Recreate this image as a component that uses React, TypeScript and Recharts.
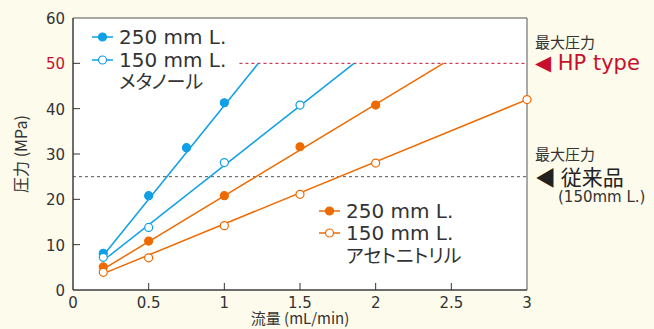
import React from 'react';
import {
  ComposedChart, Line, Scatter, XAxis, YAxis, ReferenceLine, ReferenceArea,
} from 'recharts';

// 流量 (mL/min) と圧力 (MPa)
const blue250Pts = [
  { x: 0.2, y: 8.1 }, { x: 0.5, y: 20.8 }, { x: 0.75, y: 31.4 }, { x: 1, y: 41.3 },
];
const blue150Pts = [
  { x: 0.2, y: 7.2 }, { x: 0.5, y: 13.8 }, { x: 1, y: 28.1 }, { x: 1.5, y: 40.8 },
];
const orange250Pts = [
  { x: 0.2, y: 5.1 }, { x: 0.5, y: 10.8 }, { x: 1, y: 20.8 }, { x: 1.5, y: 31.6 }, { x: 2, y: 40.8 },
];
const orange150Pts = [
  { x: 0.2, y: 3.9 }, { x: 0.5, y: 7.1 }, { x: 1, y: 14.2 }, { x: 1.5, y: 21.1 }, { x: 2, y: 28 }, { x: 3, y: 42 },
];

// fitted lines (start / end)
const blue250Fit = [{ x: 0.2, y: 7.6 }, { x: 1.225, y: 50 }];
const blue150Fit = [{ x: 0.2, y: 6.5 }, { x: 1.857, y: 50 }];
const orange250Fit = [{ x: 0.2, y: 4.6 }, { x: 2.447, y: 50 }];
const orange150Fit = [{ x: 0.2, y: 3.6 }, { x: 3, y: 42 }];

const xTicks = [0, 0.5, 1, 1.5, 2, 2.5, 3];
const yTicks = [0, 10, 20, 30, 40, 50, 60];

const BLUE = '#0fa0e6';
const ORANGE = '#ee6a00';
const RED = '#c8102e';
const TEXT = '#333';
const FONT = '"DejaVu Sans", "Noto Sans CJK JP", sans-serif';
const JP = '"Noto Sans CJK JP", sans-serif';

const XTick = (props: any) => {
  const { x, y, payload } = props;
  return (
    <g>
      {payload.value !== 0 && payload.value !== 3 && (
        <line x1={x} x2={x} y1={y} y2={y - 7} stroke={TEXT} />
      )}
      <text x={x} y={y + 18} textAnchor="middle" fontSize={15} fill={TEXT} fontFamily={FONT}>
        {String(payload.value)}
      </text>
    </g>
  );
};

const YTick = (props: any) => {
  const { x, y, payload } = props;
  return (
    <g>
      {payload.value !== 0 && payload.value !== 60 && (
        <line x1={x} x2={x + 7} y1={y} y2={y} stroke={TEXT} />
      )}
      <text x={x - 8} y={y + 6} textAnchor="end" fontSize={15}
        fill={payload.value === 50 ? RED : TEXT} fontFamily={FONT}>
        {payload.value}
      </text>
    </g>
  );
};

const dot = (color: string, filled: boolean) => (p: any) => (
  <circle cx={p.cx} cy={p.cy} r={4} fill={filled ? color : '#fff'} stroke={color} strokeWidth={1.2} />
);

const LegendRow = ({ left, top, color, filled, label }: any) => (
  <div style={{ position: 'absolute', left, top, display: 'flex', alignItems: 'center', height: 22 }}>
    <svg width={24} height={12} style={{ marginRight: 4 }}>
      <line x1={1} x2={22} y1={6} y2={6} stroke={color} strokeWidth={1.5} />
      <circle cx={11.5} cy={6} r={4} fill={filled ? color : '#fff'} stroke={color} strokeWidth={1.2} />
    </svg>
    <span style={{ fontFamily: FONT, fontSize: 20, color: TEXT, lineHeight: '22px' }}>{label}</span>
  </div>
);

const jpStyle = (left: number, top: number, size: number, color = TEXT): React.CSSProperties => ({
  position: 'absolute', left, top, fontFamily: JP, fontSize: size, color,
  lineHeight: `${size + 1}px`, fontFeatureSettings: '"palt"', whiteSpace: 'nowrap',
});

export default function App() {
  return (
    <div style={{ position: 'fixed', left: 0, top: 0, width: 654, height: 329, background: '#fdfbec' }}>
      <ComposedChart width={654} height={329} margin={{ top: 18, right: 127, bottom: 0, left: 13 }}>
        <XAxis type="number" dataKey="x" domain={[0, 3]} ticks={xTicks} height={39}
          axisLine={{ stroke: TEXT }} tickLine={false} tickSize={0} tickMargin={0} tick={<XTick />} />
        <YAxis type="number" dataKey="y" domain={[0, 60]} ticks={yTicks} width={60}
          axisLine={{ stroke: TEXT }} tickLine={false} tickSize={0} tickMargin={0} tick={<YTick />} />
        <ReferenceArea x1={0} x2={3} y1={0} y2={60} fill="#fff" fillOpacity={1} stroke="#555" ifOverflow="visible" />
        <ReferenceLine segment={[{ x: 1.1, y: 50 }, { x: 3, y: 50 }]} stroke={RED} strokeDasharray="3 3" />
        <ReferenceLine segment={[{ x: 0, y: 25 }, { x: 3, y: 25 }]} stroke="#555" strokeDasharray="3 3" />
        <Line data={blue250Fit} dataKey="y" stroke={BLUE} strokeWidth={1.5} dot={false} isAnimationActive={false} />
        <Line data={blue150Fit} dataKey="y" stroke={BLUE} strokeWidth={1.5} dot={false} isAnimationActive={false} />
        <Line data={orange250Fit} dataKey="y" stroke={ORANGE} strokeWidth={1.5} dot={false} isAnimationActive={false} />
        <Line data={orange150Fit} dataKey="y" stroke={ORANGE} strokeWidth={1.5} dot={false} isAnimationActive={false} />
        <Scatter data={blue250Pts} dataKey="y" shape={dot(BLUE, true)} isAnimationActive={false} />
        <Scatter data={blue150Pts} dataKey="y" shape={dot(BLUE, false)} isAnimationActive={false} />
        <Scatter data={orange250Pts} dataKey="y" shape={dot(ORANGE, true)} isAnimationActive={false} />
        <Scatter data={orange150Pts} dataKey="y" shape={dot(ORANGE, false)} isAnimationActive={false} />
      </ComposedChart>

      <LegendRow left={91} top={26} color={BLUE} filled label="250 mm L." />
      <LegendRow left={91} top={49} color={BLUE} filled={false} label="150 mm L." />
      <div style={jpStyle(119, 71, 19)}>メタノール</div>

      <LegendRow left={318} top={200} color={ORANGE} filled label="250 mm L." />
      <LegendRow left={318} top={222} color={ORANGE} filled={false} label="150 mm L." />
      <div style={jpStyle(346, 245, 19)}>アセトニトリル</div>

      <div style={jpStyle(535, 34, 15)}>最大圧力</div>
      <div style={{ position: 'absolute', left: 535, top: 52, fontFamily: FONT, fontSize: 21, color: RED, lineHeight: '23px', whiteSpace: 'nowrap' }}>◀ HP type</div>
      <div style={jpStyle(535, 146, 15)}>最大圧力</div>
      <div style={{ ...jpStyle(535, 165, 21, '#222'), lineHeight: '22px' }}>◀ 従来品</div>
      <div style={{ position: 'absolute', left: 558, top: 189, fontFamily: FONT, fontSize: 15, color: TEXT, lineHeight: '16px', whiteSpace: 'nowrap' }}>(150mm L.)</div>

      <div style={{ ...jpStyle(200, 310, 15), width: 200, textAlign: 'center' }}>流量 (mL/min)</div>
      <div style={{
        ...jpStyle(20, 154, 16),
        transform: 'translate(-50%, -50%) rotate(-90deg)',
      }}>圧力 (MPa)</div>
    </div>
  );
}
